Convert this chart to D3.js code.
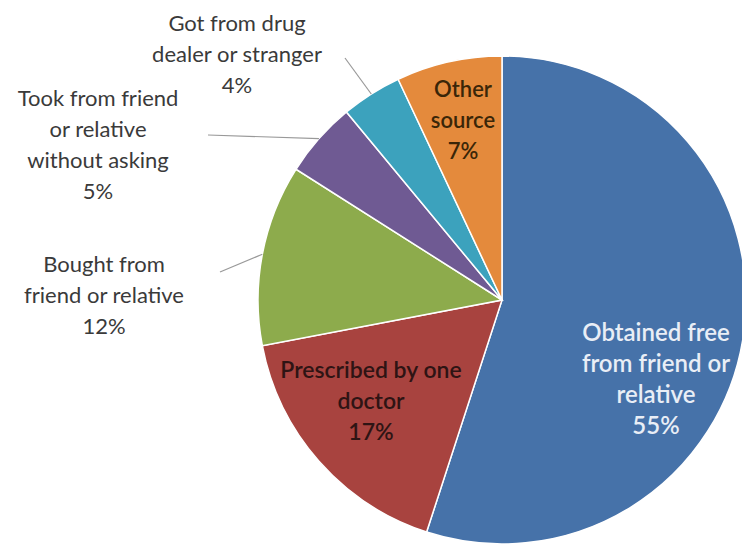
<!DOCTYPE html>
<html>
<head>
<meta charset="utf-8">
<script src="https://cdn.jsdelivr.net/npm/d3@7"></script>
<style>
  html, body { margin: 0; padding: 0; background: #fff; }
  svg { display: block; }
  text { font-family: Lato, "Open Sans", sans-serif; }
</style>
</head>
<body>
<svg id="chart" width="742" height="548"></svg>
<script>
// =========================================================================
// Data
// =========================================================================

const categories = [
    'Obtained free from friend or relative',
    'Prescribed by one doctor',
    'Bought from friend or relative',
    'Took from friend or relative without asking',
    'Got from drug dealer or stranger',
    'Other source'
];
const values = [55, 17, 12, 5, 4, 7];
const labelLines = [
    ['Obtained free', 'from friend or', 'relative'],
    ['Prescribed by one', 'doctor'],
    ['Bought from', 'friend or relative'],
    ['Took from friend', 'or relative', 'without asking'],
    ['Got from drug', 'dealer or stranger'],
    ['Other', 'source']
];
const colors = ['#4672a9', '#a8433f', '#8dab4c', '#6f5a93', '#3ca2bd', '#e48a3c'];

// =========================================================================
// Layout
// =========================================================================

const svg = d3.select('#chart');
const cx = 502, cy = 300, radius = 244;
const lineH = 31;

// label placement: inside labels by offset from centre, outside ones by anchor + leader line
const labelLayout = [
    { inside: true, dx: 154, dy: 79, fill: '#e9eef6', size: 24 },
    { inside: true, dx: -131, dy: 101, fill: '#2e1414', size: 23 },
    { inside: false, x: 104, y: 295, lx: 220, ly: 272 },
    { inside: false, x: 98, y: 145, lx: 208, ly: 135 },
    { inside: false, x: 237, y: 54, lx: 345, ly: 58 },
    { inside: true, dx: -39, dy: -180, fill: '#3a2608', size: 22 }
];

const pie = d3.pie().sort(null).value(d => d.value);
const arc = d3.arc().innerRadius(0).outerRadius(radius);

const data = categories.map((c, i) => ({ name: c, value: values[i], i }));
const arcs = pie(data);

const g = svg.append('g').attr('transform', `translate(${cx},${cy})`);

g.selectAll('path.slice')
    .data(arcs)
    .join('path')
    .attr('class', 'slice')
    .attr('d', arc)
    .attr('fill', d => colors[d.data.i])
    .attr('stroke', '#fff')
    .attr('stroke-width', 1.5);

// leader lines for outside labels
arcs.forEach(a => {
    const lay = labelLayout[a.data.i];
    if (lay.inside) return;
    const mid = (a.startAngle + a.endAngle) / 2;
    const ex = radius * Math.sin(mid);
    const ey = -radius * Math.cos(mid);
    g.append('line')
        .attr('x1', lay.lx - cx).attr('y1', lay.ly - cy)
        .attr('x2', ex).attr('y2', ey)
        .attr('stroke', '#999')
        .attr('stroke-width', 1.2);
});

// labels
arcs.forEach(a => {
    const i = a.data.i;
    const lay = labelLayout[i];
    const lines = labelLines[i].concat([a.data.value + '%']);
    const x = lay.inside ? lay.dx : lay.x - cx;
    const y = lay.inside ? lay.dy : lay.y - cy;
    const t = g.append('text')
        .attr('text-anchor', 'middle')
        .attr('font-size', lay.inside ? lay.size : 22)
        .attr('fill', lay.inside ? lay.fill : '#3a3a3a')
        .attr('font-weight', lay.inside ? 600 : 400);
    const y0 = y - (lines.length - 1) * lineH / 2;
    lines.forEach((s, k) => {
        t.append('tspan')
            .attr('x', x)
            .attr('y', y0 + k * lineH)
            .attr('dy', '0.35em')
            .text(s);
    });
});
</script>
</body>
</html>
